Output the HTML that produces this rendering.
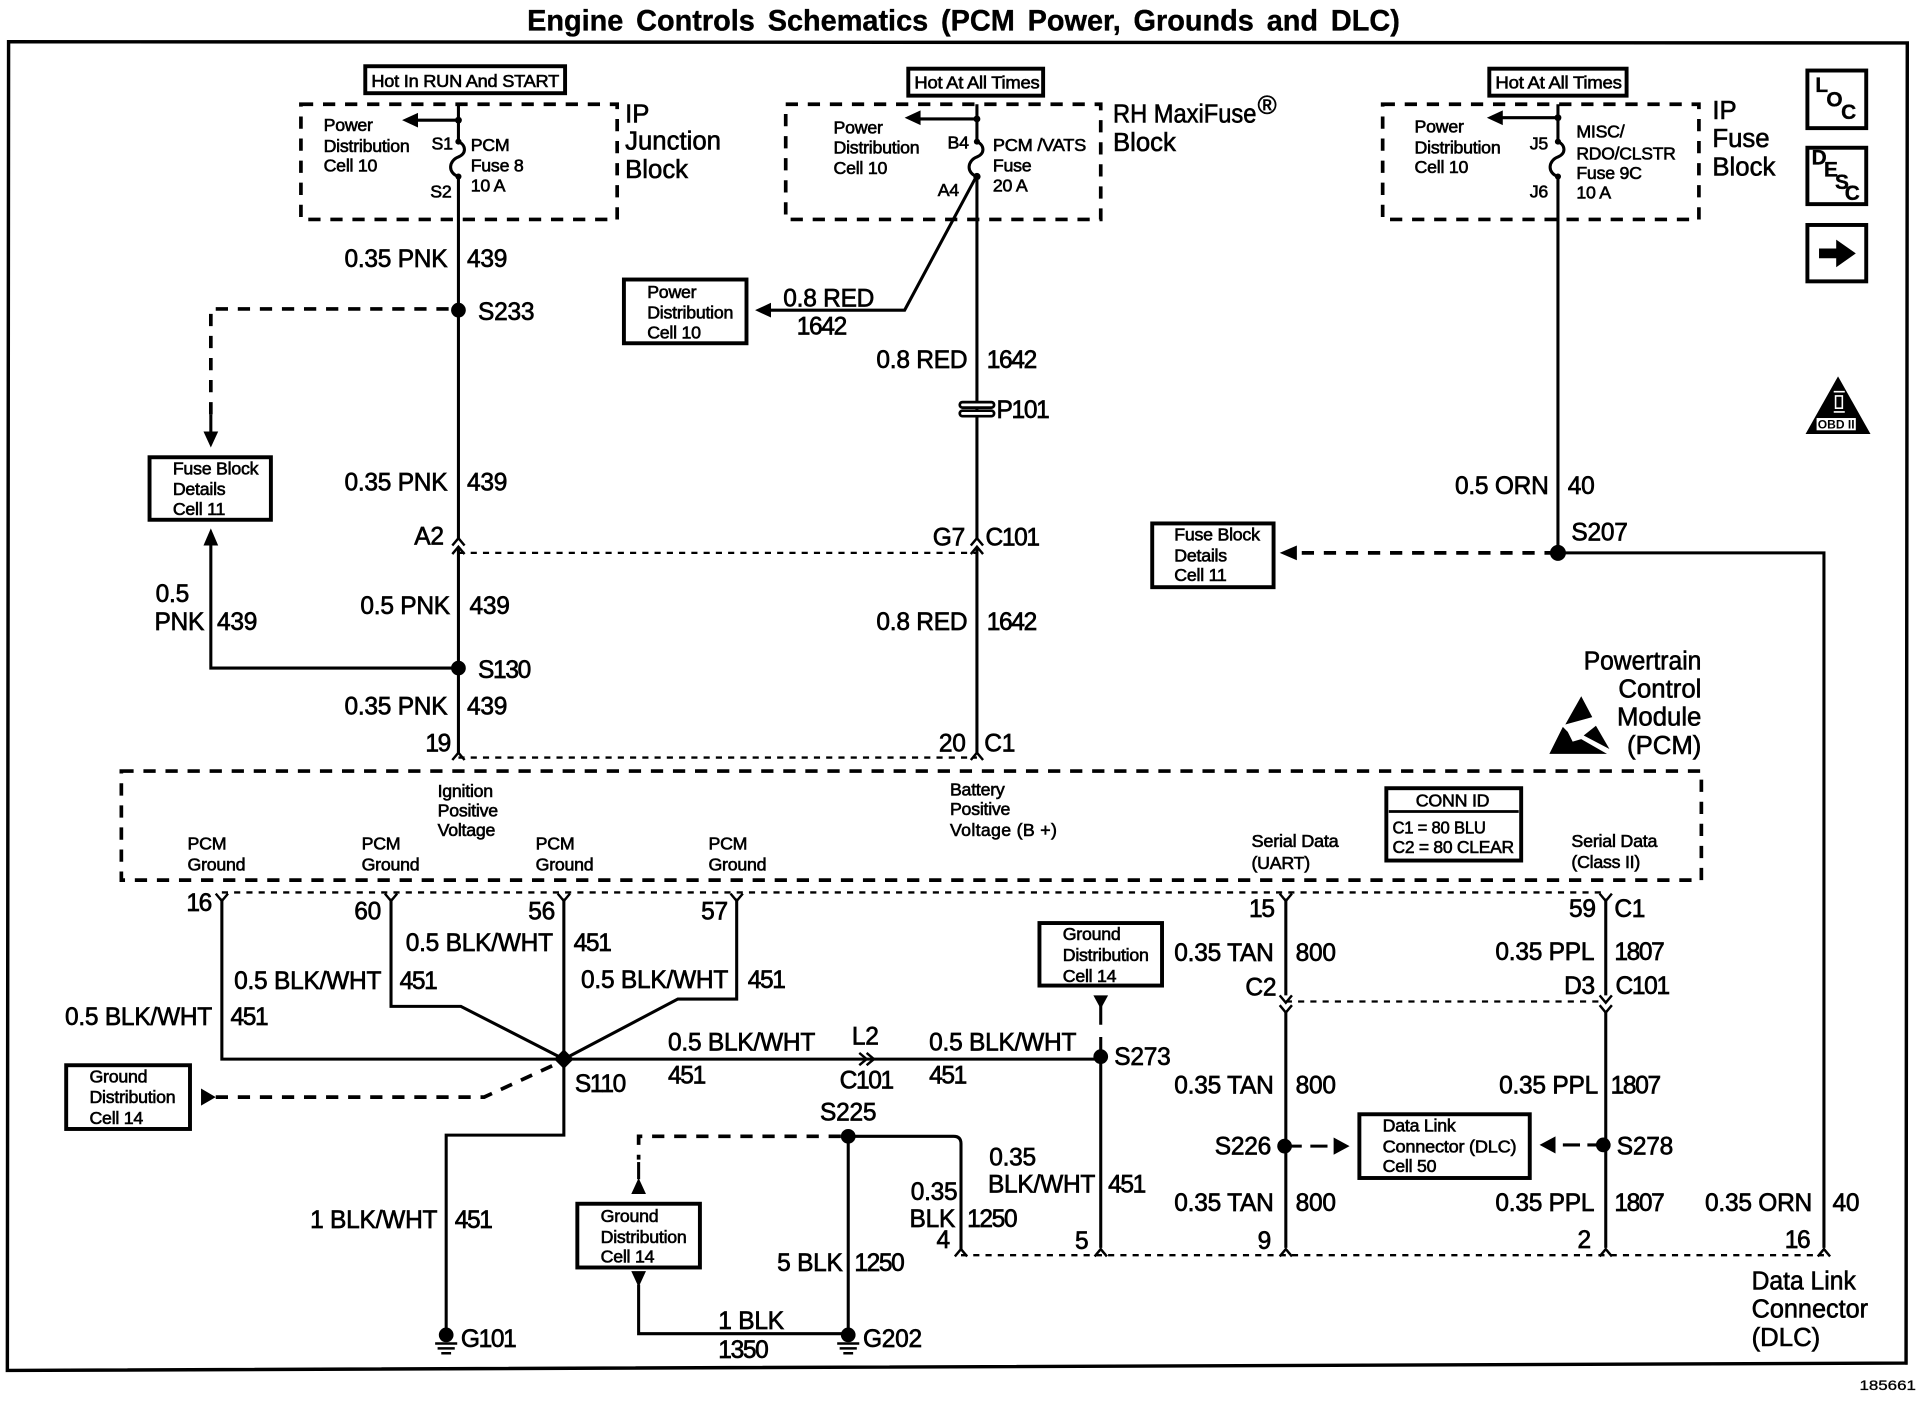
<!DOCTYPE html>
<html><head><meta charset="utf-8"><title>Engine Controls Schematics</title>
<style>
html,body{margin:0;padding:0;background:#fff}
svg{display:block;position:absolute;left:0;top:0}
text{font-family:"Liberation Sans",sans-serif;fill:#000}
.l text{font-size:20px;stroke:#000;stroke-width:.55;letter-spacing:-.2px}
.l text.n{letter-spacing:-1.1px}
.s text{font-size:14.5px;stroke:#000;stroke-width:.5;letter-spacing:-.2px}
.b text{font-size:21px;stroke:#000;stroke-width:.5}
.c text{font-size:17px;font-weight:bold;stroke:#000;stroke-width:.3}
.w{fill:none;stroke:#000;stroke-width:2.5}
.t{fill:none;stroke:#000;stroke-width:2}
.d{fill:none;stroke:#000;stroke-width:3;stroke-dasharray:10 8}
.f{fill:none;stroke:#000;stroke-width:1.9;stroke-dasharray:5 5}
.x{fill:#fff;stroke:#000;stroke-width:3.2}
</style></head><body>
<svg width="1922" height="1408" viewBox="0 0 1568 1148.6" xmlns="http://www.w3.org/2000/svg">
<rect x="0" y="0" width="1568" height="1148.6" fill="#fff"/>
<text x="430" y="25" font-size="24" font-weight="bold" word-spacing="4" textLength="712" lengthAdjust="spacingAndGlyphs" stroke="#000" stroke-width=".3">Engine Controls Schematics (PCM Power, Grounds and DLC)</text>
<path d="M7 34 L1556 35 L1555 1112 L6 1118 Z" fill="none" stroke="#000" stroke-width="2.8"/>

<!-- dashed boxes -->
<rect class="d" x="245.500" y="85" width="258" height="94"/>
<rect class="d" x="641" y="85" width="257" height="94"/>
<rect class="d" x="1128" y="85" width="258" height="94"/>
<rect class="d" x="99" y="629" width="1289" height="89"/>

<!-- inter-connector dashes -->
<path class="f" d="M374 451 H797 M374 618 H797"/>
<path class="f" d="M181 728 H1310 M1049 817 H1310 M784 1024 H1488"/>

<!-- main wires -->
<path class="w" d="M374 85 V115.500 C380 118 381 125 374 128 C366 131 365 141 374 144 V439 M374 446 V614"/>
<path class="w" d="M797 85 V115.500 C803 118 804 125 797 128 C789 131 788 141 797 144 V439 M797 446 V614"/>
<path class="w" d="M1271 85 V115.500 C1277 118 1278 125 1271 128 C1263 131 1262 141 1271 144 V451 H1488 V1018"/>
<path class="w" d="M797 143 L738 253 H628"/>
<path class="w" d="M374 98 H340 M797 97 H750 M1271 96 H1225"/>
<path class="w" d="M374 545 H172 V444"/>
<path class="d" d="M366 252 H172 V340"/>
<path class="w" d="M172 338 V353"/>
<path class="d" d="M1270 451 H1058"/>

<path class="w" d="M181 733 V864 H898 M319 733 V821 H376 L460 864 M460 733 V926 H364 V1086 M601 733 V815 H553 L460 864"/>
<path class="w" d="M692 927 V1088 M692 927 H778 Q784 927 784 933 V1019 M692 1088 H521 V1048"/>
<path class="w" d="M898 862 V1018 M1049 733 V812 M1049 825 V1018 M1310 733 V812 M1310 825 V1018"/>
<path class="d" d="M686 927 H521 V946"/>
<path class="w" d="M521 948 V962"/>
<path class="d" d="M176 895 H395 L458 866"/>
<path class="w" d="M898 818 V836 M898 846 V862"/>
<path class="w" d="M1048 935 H1062 M1069 935 H1083 M1275 934 H1289 M1295 934 H1308"/>

<!-- chevrons -->
<path class="t" d="M369 445 L374 439 L379 445 M369 452 L374 446 L379 452 M792 445 L797 439 L802 445 M792 452 L797 446 L802 452
M369 620 L374 614 L379 620 M792 620 L797 614 L802 620
M176 729 L181 735 L186 729 M314 729 L319 735 L324 729 M455 729 L460 735 L465 729 M596 729 L601 735 L606 729 M1044 729 L1049 735 L1054 729 M1305 729 L1310 735 L1315 729
M1044 812 L1049 818 L1054 812 M1044 820 L1049 826 L1054 820 M1305 812 L1310 818 L1315 812 M1305 820 L1310 826 L1315 820
M779 1025 L784 1019 L789 1025 M893 1025 L898 1019 L903 1025 M1044 1025 L1049 1019 L1054 1025 M1305 1025 L1310 1019 L1315 1025 M1483 1025 L1488 1019 L1493 1025
M701 859 L707 864 L701 869 M707 859 L713 864 L707 869"/>

<!-- arrowheads -->
<g fill="#000">
<polygon points="328,98 341,92 341,104"/>
<polygon points="738,96 751,90 751,102"/>
<polygon points="1213,96 1226,90 1226,102"/>
<polygon points="616,253 629,247 629,259"/>
<polygon points="172,365 166,352 178,352"/>
<polygon points="172,431 166,445 178,445"/>
<polygon points="1044,451 1058,445 1058,457"/>
<polygon points="164,888 164,902 176,895"/>
<polygon points="521,961 515,974 527,974"/>
<polygon points="521,1050 515,1037 527,1037"/>
<polygon points="898,823 892,812 904,812"/>
<polygon points="1101,935 1088,928 1088,942"/>
<polygon points="1256,934 1269,927 1269,941"/>
<circle cx="374" cy="98" r="2.800"/><circle cx="374" cy="115.500" r="2.500"/><circle cx="374" cy="144" r="2.500"/>
<circle cx="797" cy="97" r="2.800"/><circle cx="797" cy="115.500" r="2.500"/><circle cx="797" cy="144" r="3"/>
<circle cx="1271" cy="96" r="2.800"/><circle cx="1271" cy="115.500" r="2.500"/><circle cx="1271" cy="144" r="2.500"/>
<circle cx="374" cy="253" r="6"/><circle cx="374" cy="545" r="6"/>
<circle cx="1271" cy="451" r="6.500"/>
<polygon points="460,856 468,864 460,872 452,864"/>
<circle cx="692" cy="927" r="6"/><circle cx="898" cy="862" r="6"/>
<circle cx="1048" cy="935" r="6"/><circle cx="1308" cy="934" r="6"/>
<circle cx="364" cy="1089" r="6"/><circle cx="692" cy="1089" r="6"/>
</g>
<!-- grounds -->
<path class="t" d="M355 1096 H373 M357 1100 H371 M360 1104 H368 M683 1096 H701 M685 1100 H699 M688 1104 H696"/>
<!-- splice P101 -->
<rect x="783" y="328" width="28" height="4.500" rx="2.200" fill="#fff" stroke="#000" stroke-width="2.200"/>
<rect x="783" y="335" width="28" height="4.500" rx="2.200" fill="#fff" stroke="#000" stroke-width="2.200"/>

<!-- boxes -->
<rect class="x" x="298" y="54" width="163" height="22"/>
<rect class="x" x="741" y="56" width="110" height="22"/>
<rect class="x" x="1215" y="56" width="112" height="22"/>
<rect class="x" x="509" y="228" width="100" height="52"/>
<rect class="x" x="122" y="373" width="99" height="51"/>
<rect class="x" x="940" y="427" width="99" height="52"/>
<rect class="x" x="54" y="869" width="101" height="52"/>
<rect class="x" x="471" y="982" width="100" height="52"/>
<rect class="x" x="848" y="753" width="100" height="51"/>
<rect class="x" x="1109" y="909" width="139" height="52"/>
<rect class="x" x="1131" y="643" width="110" height="59"/>
<path d="M1133 662 H1239" stroke="#000" stroke-width="2.200"/>
<rect class="x" x="1474.500" y="57.500" width="48" height="47" stroke-width="3.800"/>
<rect class="x" x="1474.500" y="120.500" width="48" height="46" stroke-width="3.800"/>
<rect class="x" x="1474.500" y="183.500" width="48" height="46" stroke-width="3.800"/>
<polygon points="1484,202.700 1498,202.700 1498,195.500 1514,206.700 1498,218 1498,210.700 1484,210.700" fill="#000"/>
<!-- OBD triangle -->
<polygon points="1499.500,307 1473,354 1526,354" fill="#000"/>
<rect x="1482" y="341" width="32" height="10" fill="#fff"/>
<path d="M1496 319.500 H1505 M1496 336 H1505 M1497.500 323 V333 H1503 V323 Z" stroke="#fff" stroke-width="1.300" fill="none"/>
<text x="1498" y="349.500" font-size="10" font-weight="bold" text-anchor="middle" textLength="30" lengthAdjust="spacingAndGlyphs">OBD II</text>
<!-- ESD -->
<g fill="#000">
<polygon points="1290,568 1299,585 1277,591"/>
<polygon points="1275,593 1264,615 1311,615 1290,603 1283,605 1279,597"/>
<polygon points="1302,592 1313,611 1292,600"/>
</g>

<!-- Small text -->
<g class="s">
<text x="303" y="71" textLength="153" lengthAdjust="spacingAndGlyphs">Hot In RUN And START</text>
<text x="746" y="72" textLength="102" lengthAdjust="spacingAndGlyphs">Hot At All Times</text>
<text x="1220" y="72" textLength="103" lengthAdjust="spacingAndGlyphs">Hot At All Times</text>
<text x="264" y="107">Power</text><text x="264" y="124">Distribution</text><text x="264" y="140">Cell 10</text>
<text x="352" y="122">S1</text><text x="351" y="161">S2</text>
<text x="384" y="123">PCM</text><text x="384" y="140">Fuse 8</text><text x="384" y="156">10 A</text>
<text x="680" y="109">Power</text><text x="680" y="125">Distribution</text><text x="680" y="142">Cell 10</text>
<text x="773" y="121">B4</text><text x="765" y="160">A4</text>
<text x="810" y="123" textLength="76" lengthAdjust="spacingAndGlyphs">PCM /VATS</text><text x="810" y="140">Fuse</text><text x="810" y="156">20 A</text>
<text x="1154" y="108">Power</text><text x="1154" y="125">Distribution</text><text x="1154" y="141">Cell 10</text>
<text x="1248" y="122">J5</text><text x="1248" y="161">J6</text>
<text x="1286" y="112">MISC/</text><text x="1286" y="130" textLength="81" lengthAdjust="spacingAndGlyphs">RDO/CLSTR</text><text x="1286" y="146">Fuse 9C</text><text x="1286" y="162">10 A</text>
<text x="528" y="243">Power</text><text x="528" y="260">Distribution</text><text x="528" y="276">Cell 10</text>
<text x="141" y="387">Fuse Block</text><text x="141" y="404">Details</text><text x="141" y="420">Cell 11</text>
<text x="958" y="441">Fuse Block</text><text x="958" y="458">Details</text><text x="958" y="474">Cell 11</text>
<text x="357" y="650">Ignition</text><text x="357" y="666">Positive</text><text x="357" y="682">Voltage</text>
<text x="775" y="649">Battery</text><text x="775" y="665">Positive</text><text x="775" y="682" textLength="87" lengthAdjust="spacing">Voltage (B +)</text>
<text x="153" y="693">PCM</text><text x="153" y="710">Ground</text>
<text x="295" y="693">PCM</text><text x="295" y="710">Ground</text>
<text x="437" y="693">PCM</text><text x="437" y="710">Ground</text>
<text x="578" y="693">PCM</text><text x="578" y="710">Ground</text>
<text x="1021" y="691" textLength="71" lengthAdjust="spacingAndGlyphs">Serial Data</text><text x="1021" y="709">(UART)</text>
<text x="1282" y="691" textLength="70" lengthAdjust="spacingAndGlyphs">Serial Data</text><text x="1282" y="708">(Class II)</text>
<text x="1155" y="658" textLength="60" lengthAdjust="spacingAndGlyphs">CONN ID</text>
<text x="1136" y="680" textLength="76" lengthAdjust="spacingAndGlyphs">C1 = 80 BLU</text>
<text x="1136" y="696" textLength="99" lengthAdjust="spacingAndGlyphs">C2 = 80 CLEAR</text>
<text x="73" y="883">Ground</text><text x="73" y="900">Distribution</text><text x="73" y="917">Cell 14</text>
<text x="490" y="997">Ground</text><text x="490" y="1014">Distribution</text><text x="490" y="1030">Cell 14</text>
<text x="867" y="767">Ground</text><text x="867" y="784">Distribution</text><text x="867" y="801">Cell 14</text>
<text x="1128" y="923">Data Link</text><text x="1128" y="940" textLength="109" lengthAdjust="spacingAndGlyphs">Connector (DLC)</text><text x="1128" y="956">Cell 50</text>
</g>
<g class="c">
<text x="1481" y="75">L</text><text x="1490" y="87">O</text><text x="1502" y="97">C</text>
<text x="1478" y="134">D</text><text x="1488" y="144">E</text><text x="1497" y="154">S</text><text x="1505" y="163">C</text>
</g>

<!-- Big text -->
<g class="b">
<text x="510" y="100">IP</text><text x="510" y="122">Junction</text><text x="510" y="145">Block</text>
<text x="908" y="100" textLength="117" lengthAdjust="spacingAndGlyphs">RH MaxiFuse</text><text x="1026" y="93" font-size="15">®</text><text x="908" y="123">Block</text>
<text x="1397" y="97">IP</text><text x="1397" y="120">Fuse</text><text x="1397" y="143">Block</text>
<text x="1292" y="546" textLength="96" lengthAdjust="spacingAndGlyphs">Powertrain</text><text x="1388" y="569" text-anchor="end">Control</text><text x="1388" y="592" text-anchor="end">Module</text><text x="1388" y="615" text-anchor="end">(PCM)</text>
<text x="1429" y="1052" textLength="85" lengthAdjust="spacingAndGlyphs">Data Link</text><text x="1429" y="1075" textLength="95" lengthAdjust="spacingAndGlyphs">Connector</text><text x="1429" y="1098">(DLC)</text>
</g>

<!-- Wire labels -->
<g class="l">
<text x="281" y="218">0.35 PNK</text><text x="381" y="218">439</text>
<text x="390" y="261">S233</text>
<text x="281" y="400">0.35 PNK</text><text x="381" y="400">439</text>
<text x="338" y="444">A2</text>
<text x="127" y="491">0.5</text><text x="126" y="514">PNK</text><text x="177" y="514">439</text>
<text x="294" y="501">0.5 PNK</text><text x="383" y="501">439</text>
<text class="n" x="390" y="553">S130</text>
<text x="281" y="583">0.35 PNK</text><text x="381" y="583">439</text>
<text class="n" x="347" y="613">19</text>
<text x="639" y="250">0.8 RED</text><text class="n" x="650" y="273">1642</text>
<text x="715" y="300">0.8 RED</text><text class="n" x="805" y="300">1642</text>
<text class="n" x="813" y="341">P101</text>
<text x="761" y="445">G7</text><text class="n" x="804" y="445">C101</text>
<text x="715" y="514">0.8 RED</text><text class="n" x="805" y="514">1642</text>
<text x="766" y="613">20</text><text x="803" y="613">C1</text>
<text x="1187" y="403">0.5 ORN</text><text x="1279" y="403">40</text>
<text x="1282" y="441">S207</text>

<text class="n" x="152" y="743">16</text><text x="289" y="750">60</text><text x="431" y="750">56</text><text x="572" y="750">57</text>
<text x="331" y="776">0.5 BLK/WHT</text><text class="n" x="468" y="776">451</text>
<text x="191" y="807">0.5 BLK/WHT</text><text class="n" x="326" y="807">451</text>
<text x="474" y="806">0.5 BLK/WHT</text><text class="n" x="610" y="806">451</text>
<text x="53" y="836">0.5 BLK/WHT</text><text class="n" x="188" y="836">451</text>
<text x="545" y="857">0.5 BLK/WHT</text><text class="n" x="545" y="884">451</text>
<text x="695" y="852">L2</text><text class="n" x="685" y="888">C101</text>
<text x="758" y="857">0.5 BLK/WHT</text><text class="n" x="758" y="884">451</text>
<text class="n" x="469" y="891">S110</text><text x="669" y="914">S225</text>
<text x="909" y="869">S273</text>
<text x="253" y="1002">1 BLK/WHT</text><text class="n" x="371" y="1002">451</text>
<text class="n" x="376" y="1099">G101</text><text x="704" y="1099">G202</text>
<text x="586" y="1084">1 BLK</text><text class="n" x="586" y="1108">1350</text>
<text x="634" y="1037">5 BLK</text><text class="n" x="697" y="1037">1250</text>
<text x="743" y="979">0.35</text><text x="742" y="1001">BLK</text><text class="n" x="789" y="1001">1250</text><text x="764" y="1018">4</text>
<text x="807" y="951">0.35</text><text x="806" y="973">BLK/WHT</text><text class="n" x="904" y="973">451</text>
<text x="877" y="1019">5</text>

<text class="n" x="1019" y="748">15</text><text x="958" y="784">0.35 TAN</text><text x="1057" y="784">800</text><text x="1016" y="812">C2</text>
<text x="1280" y="748">59</text><text x="1317" y="748">C1</text><text x="1220" y="783">0.35 PPL</text><text class="n" x="1317" y="783">1807</text><text x="1276" y="811">D3</text><text class="n" x="1318" y="811">C101</text>
<text x="958" y="892">0.35 TAN</text><text x="1057" y="892">800</text><text x="1223" y="892">0.35 PPL</text><text class="n" x="1314" y="892">1807</text>
<text x="991" y="942">S226</text><text x="1319" y="942">S278</text>
<text x="958" y="988">0.35 TAN</text><text x="1057" y="988">800</text><text x="1220" y="988">0.35 PPL</text><text class="n" x="1317" y="988">1807</text>
<text x="1391" y="988">0.35 ORN</text><text x="1495" y="988">40</text>
<text x="1026" y="1019">9</text><text x="1287" y="1018">2</text><text class="n" x="1456" y="1018">16</text>
</g>
<text x="1517" y="1134" font-size="11.500" stroke="#000" stroke-width=".25" textLength="46" lengthAdjust="spacingAndGlyphs">185661</text>
</svg>
</body></html>
